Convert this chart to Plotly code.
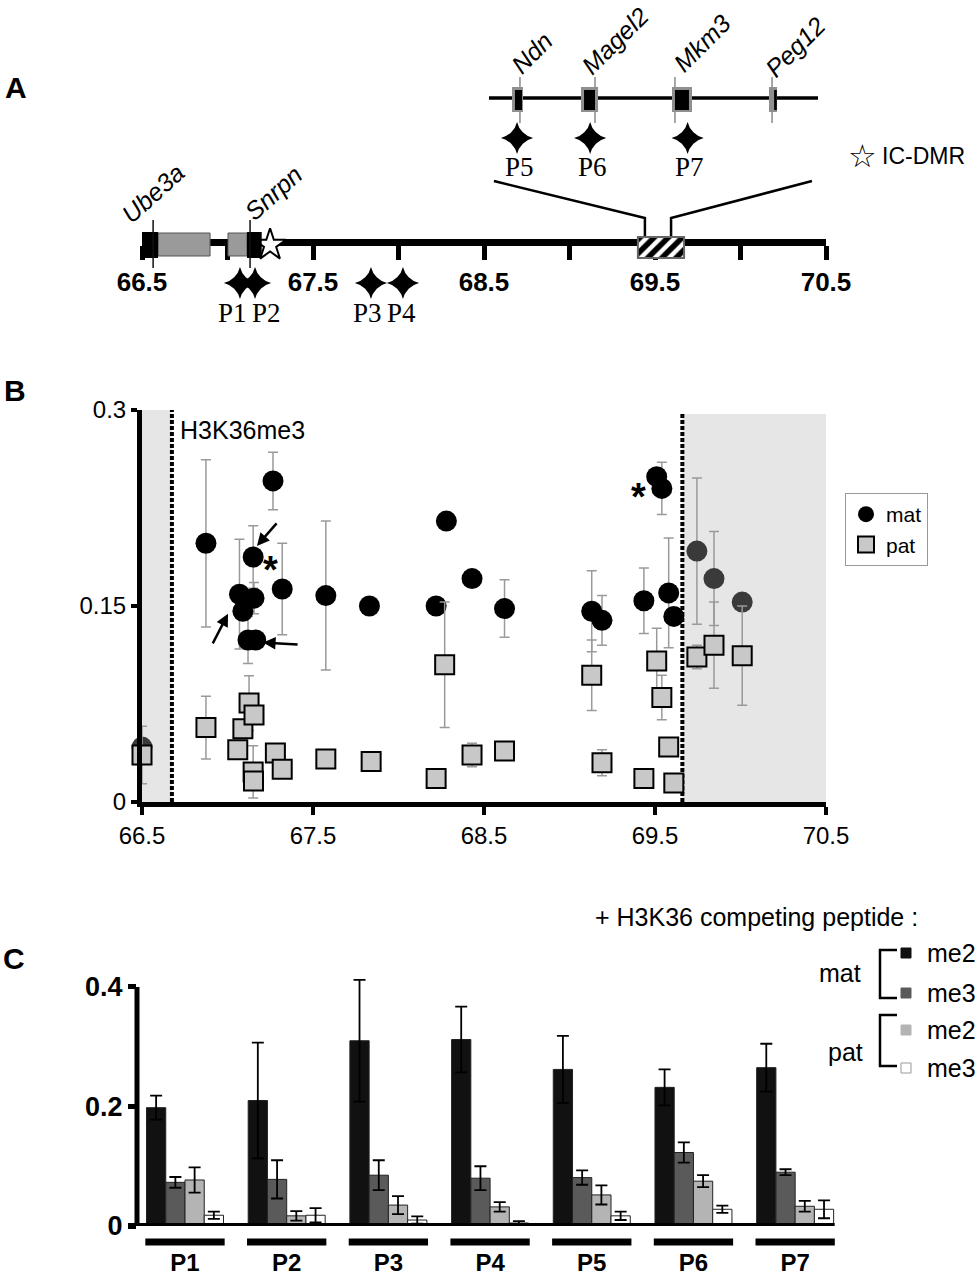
import plotly.graph_objects as go

W, H = 977, 1280
SANS = "Liberation Sans, Arial, Helvetica, sans-serif"
SERIF = "Liberation Serif, Times New Roman, serif"


def px_x(p):
    return p / W


def px_y(p):
    return 1 - p / H


# ---------------- Panel A data ----------------
a_tick_vals = [66.5, 67.0, 67.5, 68.0, 68.5, 69.0, 69.5, 70.0, 70.5]
a_tick_text = ["66.5", "", "67.5", "", "68.5", "", "69.5", "", "70.5"]

main_genes = ["Ube3a", "Snrpn"]
main_black_start = [66.46, 67.114]
main_black_end = [66.594, 67.200]
main_gray_start = [66.594, 67.003]
main_gray_end = [66.898, 67.114]
main_tss = [66.565, 67.132]
ic_dmr_pos = [67.249]

main_primers = ["P1", "P2", "P3", "P4"]
main_primer_pos = [67.073, 67.161, 67.839, 68.026]

zoom_region = [69.40, 69.67]

inset_genes = ["Ndn", "Magel2", "Mkm3", "Peg12"]
inset_gray_start = [69.4189, 69.4755, 69.5502, 69.6298]
inset_gray_end = [69.4279, 69.4895, 69.5666, 69.6364]
inset_black_start = [69.4213, 69.4780, 69.5526, 69.6340]
inset_black_end = [69.4271, 69.4870, 69.5641, 69.6362]
inset_tss = [69.4254, 69.4870, 69.5526, 69.6323]

inset_primers = ["P5", "P6", "P7"]
inset_primer_pos = [69.423, 69.483, 69.563]

# ---------------- Panel B data ----------------
h3k36_region = [66.675, 69.66]

mat_pos = [66.50, 66.874, 67.07, 67.09, 67.12, 67.15, 67.155, 67.165, 67.266, 67.32,
           67.575, 67.83, 68.22, 68.28, 68.43, 68.62, 69.13, 69.19, 69.435, 69.51,
           69.54, 69.58, 69.61, 69.745, 69.845, 70.01]
mat_val = [0.042, 0.198, 0.159, 0.146, 0.124, 0.1875, 0.156, 0.124, 0.2457, 0.163,
           0.158, 0.150, 0.150, 0.215, 0.171, 0.148, 0.146, 0.139, 0.154, 0.249,
           0.240, 0.160, 0.142, 0.192, 0.171, 0.153]
mat_err = [0.0, 0.064, 0.042, 0.0, 0.018, 0.024, 0.012, 0.0, 0.022, 0.035,
           0.057, 0.0, 0.0, 0.0, 0.006, 0.022, 0.031, 0.019, 0.025, 0.0,
           0.020, 0.042, 0.0, 0.056, 0.036, 0.0]

pat_pos = [66.50, 66.874, 67.06, 67.09, 67.126, 67.155, 67.15, 67.152, 67.28, 67.32,
           67.575, 67.84, 68.22, 68.27, 68.43, 68.62, 69.13, 69.19, 69.435, 69.51,
           69.54, 69.58, 69.61, 69.745, 69.845, 70.01]
pat_val = [0.036, 0.057, 0.040, 0.056, 0.0757, 0.0666, 0.023, 0.016, 0.0375, 0.025,
           0.033, 0.031, 0.018, 0.105, 0.036, 0.039, 0.097, 0.030, 0.018, 0.108,
           0.080, 0.042, 0.0145, 0.111, 0.120, 0.112]
pat_err = [0.022, 0.024, 0.0, 0.0, 0.021, 0.0, 0.020, 0.0, 0.0, 0.004,
           0.007, 0.0, 0.0, 0.048, 0.009, 0.0, 0.027, 0.010, 0.0, 0.025,
           0.017, 0.0, 0.0, 0.009, 0.033, 0.038]

b_tick_vals = [66.5, 67.5, 68.5, 69.5, 70.5]
b_y_ticks = [0, 0.15, 0.3]
b_y_text = ["0", "0.15", "0.3"]

# ---------------- Panel C data ----------------
primers = ["P1", "P2", "P3", "P4", "P5", "P6", "P7"]
mat_me2 = [0.198, 0.210, 0.310, 0.312, 0.262, 0.232, 0.265]
mat_me2_err = [0.020, 0.097, 0.102, 0.055, 0.056, 0.030, 0.040]
mat_me3 = [0.073, 0.078, 0.085, 0.080, 0.081, 0.123, 0.090]
mat_me3_err = [0.009, 0.032, 0.025, 0.020, 0.012, 0.017, 0.005]
pat_me2 = [0.077, 0.017, 0.035, 0.032, 0.052, 0.075, 0.033]
pat_me2_err = [0.021, 0.008, 0.015, 0.008, 0.016, 0.010, 0.009]
pat_me3 = [0.018, 0.018, 0.010, 0.005, 0.017, 0.028, 0.028]
pat_me3_err = [0.006, 0.012, 0.006, 0.003, 0.007, 0.006, 0.015]
c_y_ticks = [0, 0.2, 0.4]
c_y_text = ["0", "0.2", "0.4"]

fig = go.Figure()
shapes = []
annos = []

# ================= Panel A =================
fig.add_trace(go.Bar(
    x=[(zoom_region[0] + zoom_region[1]) / 2], y=[21], base=[237],
    width=[zoom_region[1] - zoom_region[0]],
    xaxis="x2", yaxis="y2", showlegend=False, hoverinfo="skip",
    marker=dict(color="white", line=dict(color="#666666", width=2),
                pattern=dict(shape="/", fgcolor="black", fgopacity=1, bgcolor="white",
                             size=10, solidity=0.55, fillmode="overlay")),
))

for i in range(len(main_genes)):
    shapes.append(dict(type="rect", xref="x2", yref="y2", x0=main_gray_start[i], x1=main_gray_end[i],
                       y0=233, y1=256, fillcolor="#9a9a9a", line=dict(color="#555555", width=1), layer="above"))
    shapes.append(dict(type="rect", xref="x2", yref="y2", x0=main_black_start[i], x1=main_black_end[i],
                       y0=232, y1=258, fillcolor="black", line=dict(width=0), layer="above"))
    shapes.append(dict(type="line", xref="x2", yref="y2", x0=main_tss[i], x1=main_tss[i],
                       y0=220, y1=268, line=dict(color="#111111", width=1.5), layer="above"))

label_shift_main = [0, 23]
for i, g in enumerate(main_genes):
    annos.append(dict(xref="x2", yref="y2", x=main_tss[i], y=193, xshift=label_shift_main[i],
                      xanchor="center", yanchor="middle",
                      text="<i>%s</i>" % g, showarrow=False, textangle=-42,
                      font=dict(family=SANS, size=25, color="black")))

fig.add_trace(go.Scatter(x=ic_dmr_pos, y=[245], xaxis="x2", yaxis="y2", mode="markers",
                         marker=dict(symbol="star", size=24, color="white", line=dict(color="black", width=2)),
                         showlegend=False, hoverinfo="skip", cliponaxis=False))

fig.add_trace(go.Scatter(x=main_primer_pos, y=[283] * len(main_primer_pos), xaxis="x2", yaxis="y2",
                         mode="markers", marker=dict(symbol="star-diamond", size=23, color="black"),
                         showlegend=False, hoverinfo="skip", cliponaxis=False))
primer_label_shift = [-7, 11, -3, -1]
for i, p in enumerate(main_primers):
    annos.append(dict(xref="x2", yref="y2", x=main_primer_pos[i], y=313, xshift=primer_label_shift[i],
                      xanchor="center", yanchor="middle",
                      text=p, showarrow=False, font=dict(family=SERIF, size=27, color="black")))

shapes.append(dict(type="path", xref="x2", yref="y2",
                   path="M 69.441,236 L 69.441,218 L 68.558,181", line=dict(color="black", width=2.5)))
shapes.append(dict(type="path", xref="x2", yref="y2",
                   path="M 69.594,236 L 69.594,218 L 70.418,181", line=dict(color="black", width=2.5)))

shapes.append(dict(type="line", xref="x3 domain", yref="y2", x0=0, x1=1, y0=98, y1=98,
                   line=dict(color="black", width=3.5)))
for i in range(len(inset_genes)):
    shapes.append(dict(type="line", xref="x3", yref="y2", x0=inset_tss[i], x1=inset_tss[i],
                       y0=77, y1=123, line=dict(color="#8a8a8a", width=1.5)))
    shapes.append(dict(type="rect", xref="x3", yref="y2", x0=inset_gray_start[i], x1=inset_gray_end[i],
                       y0=87, y1=112, fillcolor="#8f8f8f", line=dict(width=0)))
    shapes.append(dict(type="rect", xref="x3", yref="y2", x0=inset_black_start[i], x1=inset_black_end[i],
                       y0=90, y1=110, fillcolor="black", line=dict(width=0)))

inset_label_shift = [14, 25, 20, 22]
inset_label_y = [53, 41, 43, 47]
for i, g in enumerate(inset_genes):
    c = (inset_gray_start[i] + inset_gray_end[i]) / 2
    annos.append(dict(xref="x3", yref="y2", x=c, y=inset_label_y[i], xshift=inset_label_shift[i],
                      xanchor="center", yanchor="middle",
                      text="<i>%s</i>" % g, showarrow=False, textangle=-45,
                      font=dict(family=SANS, size=25, color="black")))

fig.add_trace(go.Scatter(x=inset_primer_pos, y=[138] * len(inset_primer_pos), xaxis="x3", yaxis="y2",
                         mode="markers", marker=dict(symbol="star-diamond", size=23, color="black"),
                         showlegend=False, hoverinfo="skip", cliponaxis=False))
for i, p in enumerate(inset_primers):
    annos.append(dict(xref="x3", yref="y2", x=inset_primer_pos[i], y=167, xshift=2,
                      xanchor="center", yanchor="middle",
                      text=p, showarrow=False, font=dict(family=SERIF, size=27, color="black")))

annos.append(dict(xref="paper", yref="paper", x=px_x(862), y=px_y(156), xanchor="center", yanchor="middle",
                  text="☆", showarrow=False, font=dict(family="DejaVu Sans", size=32, color="black")))
annos.append(dict(xref="paper", yref="paper", x=px_x(880), y=px_y(156), xanchor="left", yanchor="middle",
                  text="IC-DMR", showarrow=False, font=dict(family=SANS, size=23, color="black")))

# ================= Panel B =================
shapes.append(dict(type="rect", xref="x", yref="y", x0=66.5, x1=h3k36_region[0], y0=0, y1=0.3,
                   fillcolor="#e6e6e6", line=dict(width=0), layer="below"))
shapes.append(dict(type="rect", xref="x", yref="y", x0=h3k36_region[1], x1=70.5, y0=0, y1=0.297,
                   fillcolor="#e6e6e6", line=dict(width=0), layer="below"))
for xb, top in zip(h3k36_region, [0.3, 0.297]):
    shapes.append(dict(type="line", xref="x", yref="y", x0=xb, x1=xb, y0=0, y1=top,
                       line=dict(color="black", width=4, dash="4px,2px"), layer="below"))

inside = [h3k36_region[0] <= p <= h3k36_region[1] for p in mat_pos]
err_style = dict(type="data", color="#9a9a9a", thickness=1.5, width=5)

fig.add_trace(go.Scatter(
    x=[p for p, f in zip(mat_pos, inside) if not f], y=[v for v, f in zip(mat_val, inside) if not f],
    error_y=dict(array=[e for e, f in zip(mat_err, inside) if not f], **err_style),
    mode="markers", marker=dict(symbol="circle", size=21, color="#3a3a3a"),
    showlegend=False, name="mat", xaxis="x", yaxis="y", cliponaxis=False))
fig.add_trace(go.Scatter(
    x=[p for p, f in zip(mat_pos, inside) if f], y=[v for v, f in zip(mat_val, inside) if f],
    error_y=dict(array=[e for e, f in zip(mat_err, inside) if f], **err_style),
    mode="markers", marker=dict(symbol="circle", size=21, color="black"),
    name="mat", xaxis="x", yaxis="y", cliponaxis=False))
fig.add_trace(go.Scatter(
    x=pat_pos, y=pat_val, error_y=dict(array=pat_err, **err_style),
    mode="markers", marker=dict(symbol="square", size=19, color="#c8c8c8", line=dict(color="black", width=2)),
    name="pat", xaxis="x", yaxis="y", cliponaxis=False))

annos.append(dict(xref="x", yref="y", x=66.71, y=0.285, xanchor="left", yanchor="middle", text="H3K36me3",
                  showarrow=False, font=dict(family=SANS, size=25, color="black")))
arrow_style = dict(showarrow=True, arrowhead=2, arrowsize=1, arrowwidth=2.5, arrowcolor="black", text="")
annos.append(dict(xref="x", yref="y", x=67.172, y=0.196, ax=21, ay=-24, **arrow_style))
annos.append(dict(xref="x", yref="y", x=67.003, y=0.144, ax=-16, ay=31, **arrow_style))
annos.append(dict(xref="x", yref="y", x=67.208, y=0.122, ax=36, ay=2, **arrow_style))
for ax_, ay_ in [(67.249, 0.185), (69.406, 0.241)]:
    annos.append(dict(xref="x", yref="y", x=ax_, y=ay_, yshift=-10, xanchor="center", yanchor="middle",
                      text="<b>*</b>", showarrow=False, font=dict(family=SANS, size=38, color="black")))

# ================= Panel C =================
bar_specs = [
    (mat_me2, mat_me2_err, "#111111"),
    (mat_me3, mat_me3_err, "#5a5a5a"),
    (pat_me2, pat_me2_err, "#b4b4b4"),
    (pat_me3, pat_me3_err, "#ffffff"),
]
xs = list(range(1, len(primers) + 1))
for vals, errs, col in bar_specs:
    fig.add_trace(go.Bar(
        x=xs, y=vals, xaxis="x4", yaxis="y4", showlegend=False,
        marker=dict(color=col, line=dict(color="#222222", width=1)),
        error_y=dict(type="data", array=errs, color="black", thickness=1.8, width=6),
        cliponaxis=False,
    ))

shapes.append(dict(type="line", xref="x4 domain", yref="y4", x0=0, x1=0, y0=0, y1=0.4,
                   line=dict(color="black", width=5)))
shapes.append(dict(type="line", xref="x4 domain", yref="y4", x0=-0.0127, x1=0.984, y0=0, y1=0,
                   line=dict(color="black", width=6)))
for i in xs:
    shapes.append(dict(type="line", xref="x4", yref="paper", x0=i - 0.39, x1=i + 0.39,
                       y0=px_y(1242), y1=px_y(1242), line=dict(color="black", width=7)))

annos.append(dict(xref="paper", yref="paper", x=px_x(756), y=px_y(917), xanchor="center", yanchor="middle",
                  text="+ H3K36 competing peptide :", showarrow=False, font=dict(family=SANS, size=25, color="black")))
annos.append(dict(xref="paper", yref="paper", x=px_x(840), y=px_y(973), xanchor="center", yanchor="middle",
                  text="mat", showarrow=False, font=dict(family=SANS, size=25, color="black")))
annos.append(dict(xref="paper", yref="paper", x=px_x(845), y=px_y(1052), xanchor="center", yanchor="middle",
                  text="pat", showarrow=False, font=dict(family=SANS, size=25, color="black")))
for top, bot in [(950, 998), (1015, 1066)]:
    shapes.append(dict(type="path", xref="paper", yref="paper",
                       path="M %f,%f L %f,%f L %f,%f L %f,%f" % (px_x(897), px_y(top), px_x(880), px_y(top),
                                                                px_x(880), px_y(bot), px_x(897), px_y(bot)),
                       line=dict(color="black", width=2.5)))
key_items = [("me2", 953, "#111111", "#111111"), ("me3", 993, "#5a5a5a", "#5a5a5a"),
             ("me2", 1030, "#b4b4b4", "#b4b4b4"), ("me3", 1068, "#ffffff", "#999999")]
for lab, yc, fc, lc in key_items:
    shapes.append(dict(type="rect", xref="paper", yref="paper", x0=px_x(901), x1=px_x(911),
                       y0=px_y(yc + 5), y1=px_y(yc - 5), fillcolor=fc, line=dict(color=lc, width=1)))
    annos.append(dict(xref="paper", yref="paper", x=px_x(925), y=px_y(yc), xanchor="left", yanchor="middle",
                      text=lab, showarrow=False, font=dict(family=SANS, size=25, color="black")))

for letter, xp, yp in [("A", 16, 88), ("B", 15, 390), ("C", 14, 958)]:
    annos.append(dict(xref="paper", yref="paper", x=px_x(xp), y=px_y(yp), xanchor="center", yanchor="middle",
                      text="<b>%s</b>" % letter, showarrow=False, font=dict(family=SANS, size=30, color="black")))

fig.update_layout(
    width=W, height=H, margin=dict(l=0, r=0, t=0, b=0, autoexpand=False),
    paper_bgcolor="white", plot_bgcolor="rgba(0,0,0,0)",
    font=dict(family=SANS, color="black"),
    barmode="group", bargap=0.243, bargroupgap=0,
    shapes=shapes, annotations=annos,
    showlegend=True,
    legend=dict(x=px_x(845), y=px_y(493), xanchor="left", yanchor="top",
                bordercolor="#999999", borderwidth=1, bgcolor="white",
                font=dict(family=SANS, size=21, color="black"), tracegroupgap=0, itemwidth=30),
    xaxis=dict(domain=[px_x(142), px_x(826)], range=[66.5, 70.5], anchor="y", automargin=False,
               tickvals=b_tick_vals, ticktext=[str(v) for v in b_tick_vals],
               ticks="outside", ticklen=8, tickwidth=4, tickcolor="black",
               showline=True, linewidth=5, linecolor="black", showgrid=False, zeroline=False,
               tickfont=dict(family=SANS, size=24, color="black")),
    yaxis=dict(domain=[px_y(802), px_y(410)], range=[0, 0.3], anchor="x", automargin=False,
               tickvals=b_y_ticks, ticktext=b_y_text,
               ticks="outside", ticklen=6, tickwidth=4, tickcolor="black",
               showline=True, linewidth=5, linecolor="black", showgrid=False, zeroline=False,
               tickfont=dict(family=SANS, size=24, color="black")),
    xaxis2=dict(domain=[px_x(142), px_x(826)], range=[66.5, 70.5], anchor="free", position=px_y(242),
                automargin=False,
                tickvals=a_tick_vals, ticktext=a_tick_text,
                ticks="outside", ticklen=14, tickwidth=5, tickcolor="black",
                showline=True, linewidth=7, linecolor="black", showgrid=False, zeroline=False,
                layer="below traces",
                tickfont=dict(family=SANS, size=26, color="black", weight="bold")),
    yaxis2=dict(domain=[px_y(330), 1], range=[330, 0], anchor="x2", visible=False, automargin=False),
    xaxis3=dict(domain=[px_x(489), px_x(818)], range=zoom_region, anchor="y2", visible=False, automargin=False),
    xaxis4=dict(domain=[px_x(137), px_x(846)], range=[0.528, 7.5], anchor="y4", automargin=False,
                tickvals=xs, ticktext=primers, ticks="", showline=False, showgrid=False, zeroline=False,
                ticklabelstandoff=20,
                tickfont=dict(family=SANS, size=24, color="black", weight="bold")),
    yaxis4=dict(domain=[px_y(1226), px_y(975)], range=[0, 0.42], anchor="x4", automargin=False,
                tickvals=c_y_ticks, ticktext=c_y_text,
                ticks="outside", ticklen=8, tickwidth=5, tickcolor="black",
                showline=False, showgrid=False, zeroline=False,
                tickfont=dict(family=SANS, size=27, color="black", weight="bold")),
)

fig.write_html("out.html")
